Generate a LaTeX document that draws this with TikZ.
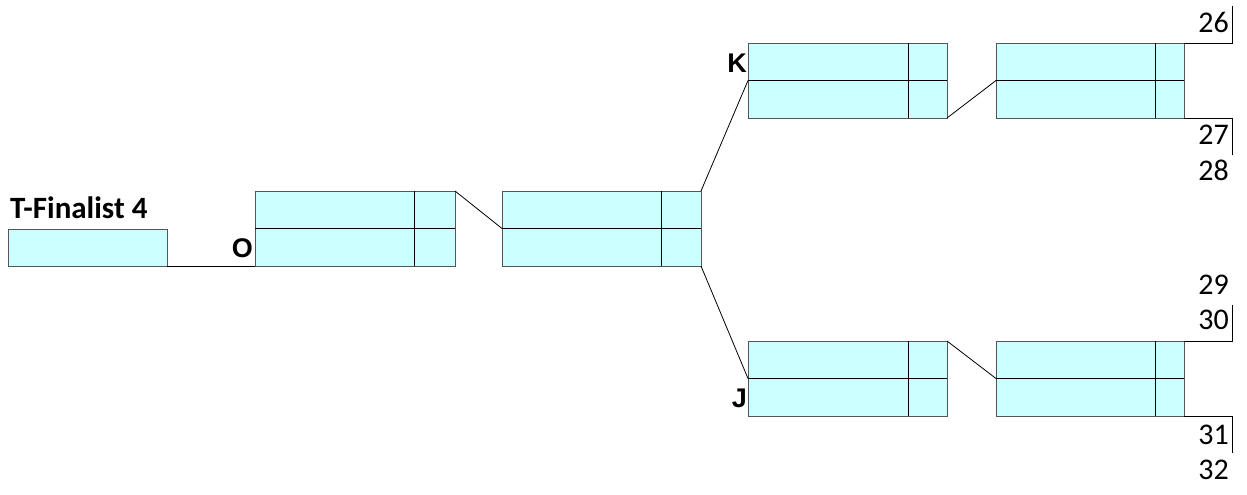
\documentclass[tikz,border=0pt]{standalone}
\usepackage{fontspec}
\setmainfont{Carlito}
\newfontfamily\lsans{Liberation Sans}
\definecolor{cellfill}{HTML}{CCFFFF}
\definecolor{celledge}{HTML}{555555}
\begin{document}
\begin{tikzpicture}[x=1pt,y=-1pt,
  cell/.style={draw=celledge, fill=cellfill, line width=0.9pt, inner sep=0pt, outer sep=0pt, anchor=north west, minimum height=75pt},
  single/.style={draw=celledge, fill=cellfill, line width=0.9pt, inner sep=0pt, outer sep=0pt, anchor=north west, minimum height=37pt, minimum width=159pt},
  divline/.style={draw=black, line width=0.8pt},
  conn/.style={draw=black, line width=0.8pt},
  num/.style={font=\fontsize{30}{30}\selectfont, anchor=east, inner sep=0pt},
  lbl/.style={font=\lsans\bfseries\fontsize{27}{27}\selectfont, anchor=east, inner sep=0pt},
  title/.style={font=\bfseries\fontsize{31}{31}\selectfont, anchor=base west, inner sep=0pt}]
\useasboundingbox (0,0) rectangle (1247,495);
% boxes
\node[single] (t4) at (8,229) {};
\node[cell, minimum width=200pt] (o) at (255,191) {};
\node[cell, minimum width=199pt] (c2) at (502,191) {};
\node[cell, minimum width=199pt] (k1) at (748,43) {};
\node[cell, minimum width=188pt] (k2) at (996,43) {};
\node[cell, minimum width=199pt] (j1) at (748,341) {};
\node[cell, minimum width=188pt] (j2) at (996,341) {};
% inner lines
\foreach \b/\d in {o/41,c2/40,k1/39,k2/29,j1/39,j2/29}{
  \draw[divline] (\b.west) -- (\b.east);
  \draw[divline] ([xshift=-\d pt]\b.north east) -- ([xshift=-\d pt]\b.south east);
}
% connectors
\draw[conn] (t4.south east) -- (o.south west);
\draw[conn] (o.north east) -- (c2.west);
\draw[conn] (c2.north east) -- (k1.west);
\draw[conn] (c2.south east) -- (j1.west);
\draw[conn] (k1.south east) -- (k2.west);
\draw[conn] (j1.north east) -- (j2.west);
% brackets
\coordinate (e26) at (1232,6);
\coordinate (e27) at (1232,155);
\coordinate (e30) at (1232,305);
\coordinate (e31) at (1232,453);
\draw[conn] (k2.north east) -- (e26 |- k2.north east) -- (e26);
\draw[conn] (k2.south east) -- (e27 |- k2.south east) -- (e27);
\draw[conn] (j2.north east) -- (e30 |- j2.north east) -- (e30);
\draw[conn] (j2.south east) -- (e31 |- j2.south east) -- (e31);
% numbers
\node[num] (n26) at (1229,22) {26};
\node[num] (n27) at (1229,135) {27};
\node[num] (n28) at (1229,170) {28};
\node[num] (n29) at (1229,285) {29};
\node[num] (n30) at (1229,320) {30};
\node[num] (n31) at (1229,435) {31};
\node[num] (n32) at (1229,470) {32};
% labels
\node[lbl] (lk) at (747,63) {K};
\node[lbl] (lo) at (253,248) {O};
\node[lbl] (lj) at (747,398) {J};
\node[title] (tt) at (10,218) {T-Finalist 4};
\end{tikzpicture}
\end{document}
